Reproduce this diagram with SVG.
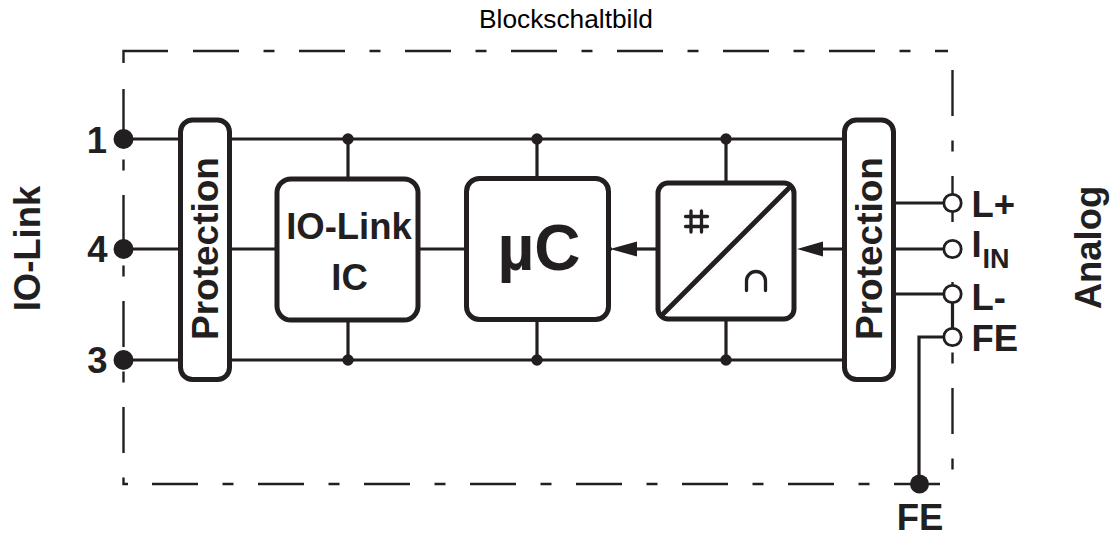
<svg xmlns="http://www.w3.org/2000/svg" width="1114" height="540" viewBox="0 0 1114 540">
<style>
text{font-family:"Liberation Sans",Arial,sans-serif;font-weight:700;fill:#231f20}
.t{font-size:36.500px}
.p{font-size:37px}
.box{fill:#fff;stroke:#231f20;stroke-width:5}
.w{fill:none;stroke:#231f20;stroke-width:3.200}
.d{fill:none;stroke:#231f20;stroke-width:2.400;stroke-dasharray:46 24.500 11 24.500}
.j{fill:#231f20}
.o{fill:#fff;stroke:#231f20;stroke-width:2.800}
</style>
<rect width="1114" height="540" fill="#fff"/>
<text x="479" y="28" style="font-size:26.300px;font-weight:400;fill:#000">Blockschaltbild</text>
<g id="frame">
<path class="d" style="stroke-dasharray:none" d="M123.500 63V51H168"/>
<path class="d" d="M193 51H948"/>
<path class="d" d="M123.500 89V484H128"/>
<path class="d" d="M952.500 70V470"/>
<path class="d" d="M152 484H942"/>
</g>
<g id="connectors">
<path class="w" d="M124 139H842M124 249H180M230 249H277M416 249H466M608 249H612M842 249H810M124 360H842"/>
<path class="w" d="M348 139V180M537 139V180M726 139V183M348 320V360M537 320V360M726 318V360"/>
<path class="w" d="M893 203H945M893 249H945M893 294H945M952.500 294V336M945 337H919V484"/>
<path class="j" d="M797 249L823 241.500V256.500ZM610 249L637 241.500V256.500Z"/>
<path class="w" d="M637 249H658"/>
<circle class="j" cx="348" cy="139" r="5.700"/><circle class="j" cx="537" cy="139" r="5.700"/><circle class="j" cx="726" cy="139" r="5.700"/>
<circle class="j" cx="348" cy="360" r="5.700"/><circle class="j" cx="537" cy="360" r="5.700"/><circle class="j" cx="726" cy="360" r="5.700"/>
</g>
<g id="t1"><circle class="j" cx="123.500" cy="139" r="10"/><text class="t" x="107" y="153" text-anchor="end">1</text></g>
<g id="t4"><circle class="j" cx="123.500" cy="249" r="10"/><text class="t" x="107.500" y="262" text-anchor="end">4</text></g>
<g id="t3"><circle class="j" cx="123.500" cy="360" r="10"/><text class="t" x="107.500" y="373" text-anchor="end">3</text></g>
<g id="prot-left"><rect class="box" x="180.500" y="120" width="49" height="259.500" rx="12"/><text class="p" transform="translate(217.500 248.500) rotate(-90)" text-anchor="middle">Protection</text></g>
<g id="prot-right"><rect class="box" x="844.500" y="120" width="49" height="259.500" rx="12"/><text class="p" transform="translate(881.500 248.500) rotate(-90)" text-anchor="middle">Protection</text></g>
<g id="iolink"><rect class="box" x="277" y="179" width="141" height="141" rx="14"/><text class="t" x="349" y="239" text-anchor="middle">IO-Link</text><text class="t" x="349.500" y="290" text-anchor="middle">IC</text></g>
<g id="uc"><rect class="box" x="466.500" y="178.500" width="142" height="141" rx="13"/><text x="539" y="270" text-anchor="middle" style="font-size:64px">µC</text></g>
<g id="adc"><rect class="box" x="658" y="183" width="136" height="136" rx="10"/><path class="w" style="stroke-width:5" d="M660 317L792 185"/><path class="w" style="stroke-width:3.300;stroke-linecap:round" d="M691 211V232M701.500 211V232M685.500 216.500H707.500M685.500 226.500H707.500M746.500 290.500V281a9.500 9.500 0 0 1 19 0V290.500"/></g>
<g id="tLp"><circle class="o" cx="952.500" cy="203" r="8.700"/><text class="t" x="971.500" y="216.500">L+</text></g>
<g id="tIin"><circle class="o" cx="952.500" cy="249" r="8.700"/><text class="t" x="971.500" y="256.500">I<tspan x="982.500" y="267.500" style="font-size:27px">IN</tspan></text></g>
<g id="tLm"><circle class="o" cx="952.500" cy="294" r="8.700"/><text class="t" x="971.500" y="309.500">L-</text></g>
<g id="tFE"><circle class="o" cx="952.500" cy="337" r="8.700"/><text class="t" x="971.500" y="350.500">FE</text></g>
<g id="gnd"><circle class="j" cx="919.500" cy="484" r="9.500"/><text class="t" x="920" y="530" text-anchor="middle">FE</text></g>
<g id="io-link-label"><text class="t" transform="translate(40 248.500) rotate(-90)" text-anchor="middle">IO-Link</text></g>
<g id="analog-label"><text class="t" transform="translate(1101 247.500) rotate(-90)" text-anchor="middle">Analog</text></g>
</svg>
